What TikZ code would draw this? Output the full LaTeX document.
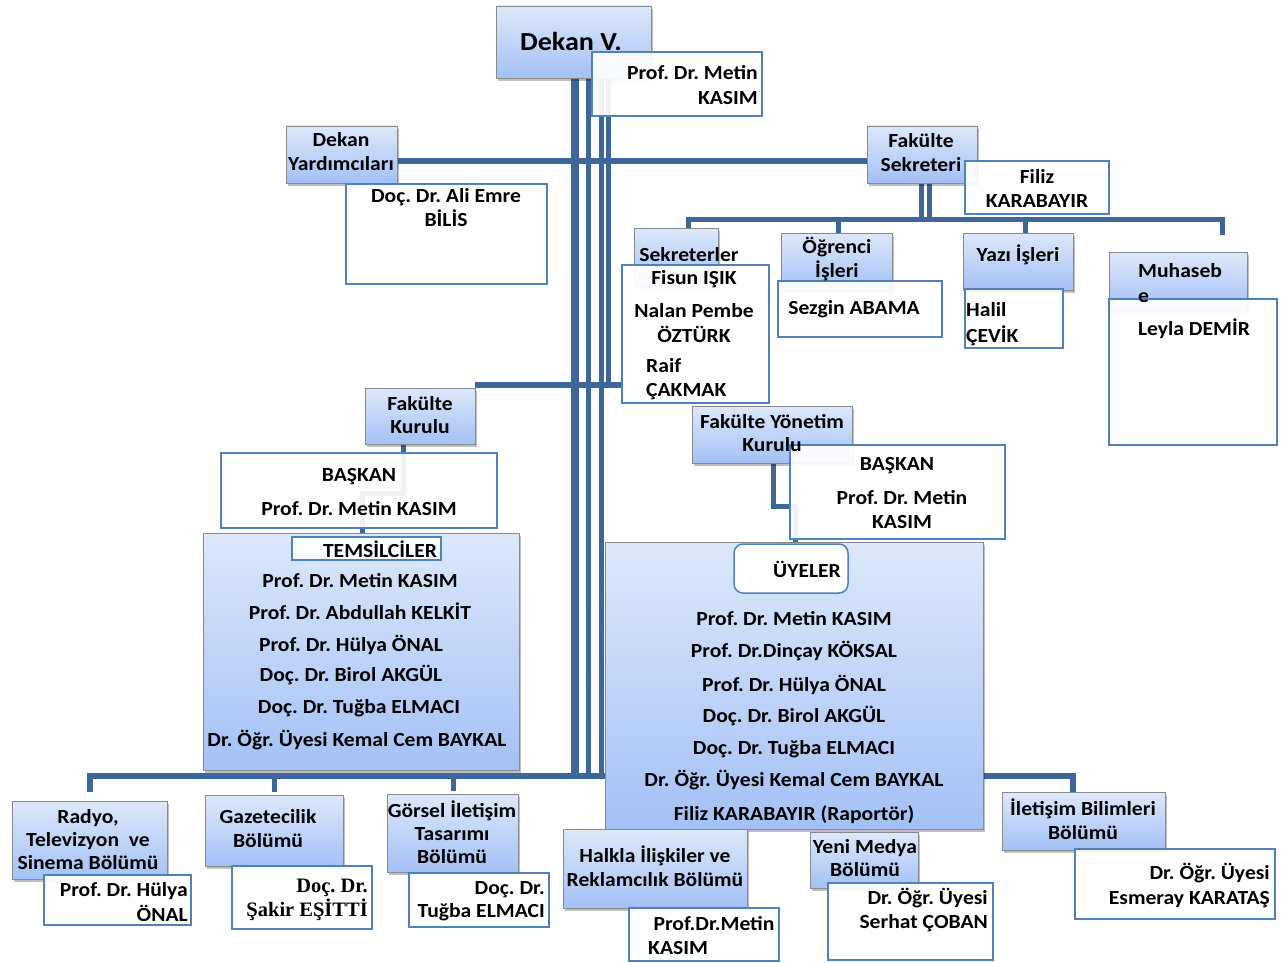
\documentclass[tikz,border=0pt]{standalone}
\usepackage{fontspec}
\setmainfont{Carlito}[FakeStretch=1.08]
\newfontfamily\serifb{Liberation Serif}
\usetikzlibrary{shadows}
\definecolor{lc}{HTML}{3D6799}
\definecolor{gtop}{HTML}{DDE8FB}
\definecolor{gbot}{HTML}{A3C1F5}
\definecolor{nb}{HTML}{4F81BD}
\definecolor{tb}{HTML}{8A8A8A}
\newcommand\bx[6]{\node[#1, minimum width={(#4)-(#2)}, minimum height={(#5)-(#3)}] (#6) at ({((#2)+(#4))/2},{((#3)+(#5))/2}) {};}
\frenchspacing
\begin{document}
\frenchspacing
\begin{tikzpicture}[x=1pt,y=-1pt,
  title/.style={draw=tb, line width=0.9pt, top color=gtop, bottom color=gbot, inner sep=0pt, outer sep=0pt,
    drop shadow={shadow xshift=2pt, shadow yshift=-3pt, opacity=0.25, fill=black}},
  namebox/.style={draw=nb, line width=1.5pt, fill=white, fill opacity=0.92, inner sep=0pt, outer sep=0pt},
  bus/.style={draw=lc, line width=5pt},
  txt/.style={inner sep=0pt, yshift=-1.5pt, font=\bfseries\fontsize{20}{24}\selectfont, align=center}]
\fill[white] (0,0) rectangle (1287,963);
\useasboundingbox (0,0) rectangle (1287,963);

% ---------- connectors ----------
\draw[bus, line width=8pt] (575,78) -- (575,779);
\draw[bus] (588,78) -- (588,779);
\draw[bus] (601,78) -- (601,779);
\draw[bus] (608,78) -- (608,388);
\draw[bus, line width=6pt] (397,161) -- (867,161);
\draw[bus, line width=6pt] (475,385) -- (622,385);
\draw[bus] (921,183) -- (921,219);
\draw[bus] (929,183) -- (929,219);
\draw[bus] (688,230) -- (688,219) -- (1222,219) -- (1222,235);
\draw[bus] (838,219) -- (838,233);
\draw[bus] (1025,219) -- (1025,235);
\draw[bus] (403,444) -- (403,493) -- (362,493) -- (362,533);
\draw[bus] (773,463) -- (773,506) -- (795,506) -- (795,542);
\draw[bus, line width=6pt] (90,792) -- (90,776) -- (640,776);
\draw[bus] (274,776) -- (274,792);
\draw[bus] (453,776) -- (453,791);
\draw[bus, line width=6pt] (960,776) -- (1073,776) -- (1073,793);

% ---------- boxes ----------
\bx{title}{496}{6}{651}{78}{dekan}
\bx{namebox}{592}{52}{762}{116}{dekanN}
\bx{title}{286}{126}{397}{183}{dy}
\bx{namebox}{346}{184}{547}{284}{dyN}
\bx{title}{867}{126}{977}{183}{fs}
\bx{namebox}{965}{161}{1109}{214}{fsN}
\bx{title}{634}{228}{718}{286}{sek}
\bx{namebox}{622}{265}{769}{403}{sekN}
\bx{title}{781}{233}{892}{290}{ogr}
\bx{namebox}{778}{281}{942}{337}{ogrN}
\bx{title}{963}{233}{1073}{290}{yazi}
\bx{namebox}{965}{289}{1063}{348}{yaziN}
\bx{title}{1109}{252}{1247}{310}{muh}
\bx{namebox}{1109}{299}{1277}{445}{muhN}
\bx{title}{365}{388}{475}{444}{fk}
\bx{namebox}{221}{453}{497}{528}{fkN}
\bx{title}{203}{533}{519}{770}{tem}
\bx{namebox}{292}{537}{441}{560}{temL}
\bx{title}{692}{406}{852}{463}{fyk}
\bx{namebox}{790}{445}{1005}{539}{fykN}
\bx{title}{605}{542}{983}{829}{uye}
\bx{namebox, rounded corners=9pt, fill opacity=1}{734}{544}{848}{593}{uyeL}
\bx{title}{12}{801}{167}{879}{radyo}
\bx{namebox}{44}{875}{191}{925}{radyoN}
\bx{title}{205}{795}{343}{866}{gaz}
\bx{namebox}{232}{866}{372}{929}{gazN}
\bx{title}{387}{794}{518}{872}{gor}
\bx{namebox}{409}{873}{549}{927}{gorN}
\bx{title}{563}{829}{747}{908}{halk}
\bx{namebox}{629}{908}{779}{961}{halkN}
\bx{title}{810}{832}{918}{888}{yeni}
\bx{namebox}{828}{883}{993}{960}{yeniN}
\bx{title}{1002}{792}{1165}{850}{ilet}
\bx{namebox}{1075}{849}{1275}{919}{iletN}

% ---------- texts ----------
\node[txt, font=\bfseries\fontsize{26}{30}\selectfont] (t1) at (571,40) {Dekan V.};
\node[txt, align=right, anchor=east, font=\bfseries\fontsize{20}{25}\selectfont] (t2) at (758,83.5) {Prof. Dr. Metin\\KASIM};
\node[txt] (t3) at (341,150) {Dekan\\Yardımcıları};
\node[txt] (t4) at (446,206) {Doç. Dr. Ali Emre\\BİLİS};
\node[txt] (t5) at (921,151) {Fakülte\\Sekreteri};
\node[txt] (t6) at (1037,187) {Filiz\\KARABAYIR};
\node[txt] (t7) at (689,253) {Sekreterler};
\node[txt] (t8) at (694,278) {Fisun IŞIK};
\node[txt, font=\bfseries\fontsize{20}{25}\selectfont] (t9) at (694,321.5) {Nalan Pembe\\ÖZTÜRK};
\node[txt, align=left, anchor=west] (t10) at (646,378) {Raif\\ÇAKMAK};
\node[txt] (t11) at (837,258) {Öğrenci\\İşleri};
\node[txt] (t12) at (854,308) {Sezgin ABAMA};
\node[txt] (t13) at (1018,253) {Yazı İşleri};
\node[txt, align=left, anchor=west, font=\bfseries\fontsize{20}{26}\selectfont] (t14) at (966,323) {Halil\\ÇEVİK};
\node[txt, align=left, anchor=west, font=\bfseries\fontsize{20}{25}\selectfont] (t15) at (1138,281.5) {Muhaseb\\e};
\node[txt] (t16) at (1194,327) {Leyla DEMİR};
\node[txt, font=\bfseries\fontsize{20}{23}\selectfont] (t17) at (420,414) {Fakülte\\Kurulu};
\node[txt] (t18) at (359,475) {BAŞKAN};
\node[txt] (t19) at (359,507) {Prof. Dr. Metin KASIM};
\node[txt] (t20) at (380,548) {TEMSİLCİLER};
\node[txt] (t21) at (360,579) {Prof. Dr. Metin KASIM};
\node[txt] (t22) at (360,610) {Prof. Dr. Abdullah KELKİT};
\node[txt] (t23) at (351,643) {Prof. Dr. Hülya ÖNAL};
\node[txt] (t24) at (351,674) {Doç. Dr. Birol AKGÜL};
\node[txt] (t25) at (359,707) {Doç. Dr. Tuğba ELMACI};
\node[txt] (t26) at (357,739) {Dr. Öğr. Üyesi Kemal Cem BAYKAL};
\node[txt, font=\bfseries\fontsize{20}{23}\selectfont] (t27) at (772,432) {Fakülte Yönetim\\Kurulu};
\node[txt] (t28) at (897,464) {BAŞKAN};
\node[txt] (t29) at (902,508) {Prof. Dr. Metin\\KASIM};
\node[txt] (t30) at (807,568) {ÜYELER};
\node[txt] (t31) at (794,617) {Prof. Dr. Metin KASIM};
\node[txt] (t32) at (794,650) {Prof. Dr.Dinçay KÖKSAL};
\node[txt] (t33) at (794,683) {Prof. Dr. Hülya ÖNAL};
\node[txt] (t34) at (794,715) {Doç. Dr. Birol AKGÜL};
\node[txt] (t35) at (794,748) {Doç. Dr. Tuğba ELMACI};
\node[txt] (t36) at (794,779) {Dr. Öğr. Üyesi Kemal Cem BAYKAL};
\node[txt] (t37) at (794,813) {Filiz KARABAYIR (Raportör)};
\node[txt, font=\bfseries\fontsize{20}{23}\selectfont] (t38) at (88,838) {Radyo,\\Televizyon\ \ ve\\Sinema Bölümü};
\node[txt, align=right, anchor=east, font=\bfseries\fontsize{20}{25}\selectfont] (t39) at (188,900.5) {Prof. Dr. Hülya\\ÖNAL};
\node[txt] (t40) at (268,827) {Gazetecilik\\Bölümü};
\node[txt, align=right, anchor=east, font=\serifb\bfseries\fontsize{20.5}{24}\selectfont] (t41) at (368,898) {Doç. Dr.\\Şakir EŞİTTİ};
\node[txt, font=\bfseries\fontsize{20}{23}\selectfont] (t42) at (452,831) {Görsel İletişim\\Tasarımı\\Bölümü};
\node[txt, align=right, anchor=east, font=\bfseries\fontsize{20}{23}\selectfont] (t43) at (545,899.5) {Doç. Dr.\\Tuğba ELMACI};
\node[txt] (t44) at (655,865) {Halkla İlişkiler ve\\Reklamcılık Bölümü};
\node[txt] (t45) at (714,922) {Prof.Dr.Metin};
\node[txt, anchor=west] (t46) at (648,946) {KASIM};
\node[txt, font=\bfseries\fontsize{20}{23}\selectfont] (t47) at (865,856.5) {Yeni Medya\\Bölümü};
\node[txt, align=right, anchor=east] (t48) at (988,909) {Dr. Öğr. Üyesi\\Serhat ÇOBAN};
\node[txt] (t49) at (1083,818) {İletişim Bilimleri\\Bölümü};
\node[txt, align=right, anchor=east, font=\bfseries\fontsize{20}{25}\selectfont] (t50) at (1270,884.5) {Dr. Öğr. Üyesi\\Esmeray KARATAŞ};
\end{tikzpicture}
\end{document}
